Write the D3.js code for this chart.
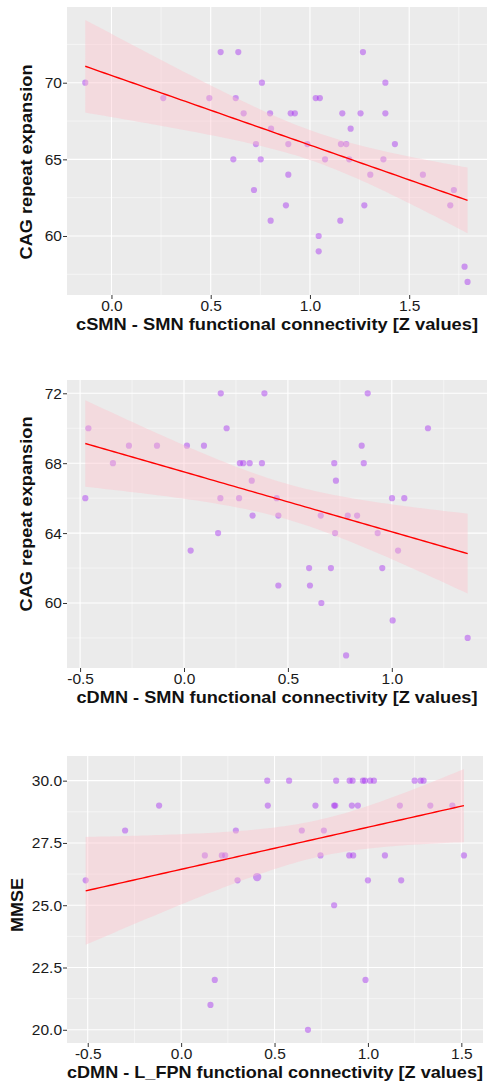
<!DOCTYPE html>
<html>
<head>
<meta charset="utf-8">
<script src="https://cdn.jsdelivr.net/npm/d3@7"></script>
<style>
  body {
    margin: 0;
    background: #fff;
  }
  svg {
    display: block;
    font-family: "Liberation Sans", Arial, sans-serif;
  }
  .tick text {
    fill: #1a1a1a;
    font-size: 15.5px;
  }
  .tick line {
    stroke: #333;
  }
  .axis-title {
    font-weight: bold;
    font-size: 16.5px;
    fill: #111;
  }
</style>
</head>
<body>
<script>
// panel 1 : cSMN - SMN vs CAG
var smn_x = [-0.132, 0.261, 0.493, 0.550, 0.639, 0.626, 0.666, 0.758, 0.799, 0.804,
  0.728, 0.614, 0.752, 0.903, 0.924, 0.891, 0.987, 1.029, 1.050, 1.076,
  1.163, 1.156, 1.183, 1.205, 1.198, 1.267, 1.255, 1.380, 1.380, 1.370,
  1.428, 0.718, 0.802, 0.891, 1.304, 1.569, 1.725, 0.879, 1.274, 1.707,
  1.153, 1.044, 1.044, 1.779, 1.794];
var smn_cag = [70, 69, 69, 72, 72, 69, 68, 70, 68, 67,
  66, 65, 65, 68, 68, 66, 66, 69, 69, 65,
  68, 66, 66, 67, 65, 72, 68, 70, 68, 65,
  66, 63, 61, 64, 64, 64, 63, 62, 62, 62,
  61, 60, 59, 58, 57];

// panel 2 : cDMN - SMN vs CAG
var dmn_x = [-0.475, -0.460, -0.265, -0.342, -0.130, 0.014, 0.096, 0.177, 0.205, 0.175,
  0.265, 0.269, 0.285, 0.316, 0.375, 0.326, 0.330, 0.387, 0.446, 0.454,
  0.884, 1.174, 0.855, 0.723, 0.865, 0.731, 1.001, 1.060, 0.658, 0.788,
  0.833, 0.164, 0.032, 0.454, 0.727, 0.932, 1.030, 0.602, 0.707, 0.954,
  0.606, 0.661, 1.004, 1.365, 0.780];
var dmn_cag = [66, 70, 69, 68, 69, 69, 69, 72, 70, 66,
  66, 68, 68, 68, 68, 67, 65, 72, 66, 65,
  72, 70, 69, 68, 68, 67, 66, 66, 65, 65,
  65, 64, 63, 61, 64, 64, 63, 62, 62, 62,
  61, 60, 59, 58, 57];

// panel 3 : cDMN - L_FPN vs MMSE
var fpn_x = [-0.511, -0.300, -0.118, 0.127, 0.218, 0.236, 0.293, 0.302, 0.407, 0.461,
  0.464, 0.578, 0.830, 0.902, 0.918, 0.973, 0.984, 1.012, 1.032, 1.250,
  1.282, 1.298, 0.719, 0.819, 0.825, 0.914, 0.946, 1.171, 1.334, 1.452,
  0.646, 0.764, 0.746, 0.900, 0.921, 1.091, 1.514, 1.000, 1.178, 0.819,
  0.180, 0.157, 0.987, 0.679];
var fpn_mmse = [26, 28, 29, 27, 27, 27, 28, 26, 26.13, 30,
  29, 30, 30, 30, 30, 30, 30, 30, 30, 30,
  30, 30, 29, 29, 29, 29, 29, 29, 29, 29,
  28, 28, 27, 27, 27, 27, 27, 26, 26, 25,
  22, 21, 22, 20];
// the one bigger dot in panel 3
var fpn_big = [0, 0, 0, 0, 0, 0, 0, 0, 1, 0,
  0, 0, 0, 0, 0, 0, 0, 0, 0, 0,
  0, 0, 0, 0, 0, 0, 0, 0, 0, 0,
  0, 0, 0, 0, 0, 0, 0, 0, 0, 0,
  0, 0, 0, 0];

// ticks
var p1_xticks = [0, 0.5, 1, 1.5], p1_xlabels = ["0.0", "0.5", "1.0", "1.5"];
var p1_xminor = [0.25, 0.75, 1.25, 1.75];
var p1_yticks = [60, 65, 70], p1_ylabels = ["60", "65", "70"];
var p1_yminor = [57.5, 62.5, 67.5, 72.5];

var p2_xticks = [-0.5, 0, 0.5, 1], p2_xlabels = ["-0.5", "0.0", "0.5", "1.0"];
var p2_xminor = [-0.25, 0.25, 0.75, 1.25];
var p2_yticks = [60, 64, 68, 72], p2_ylabels = ["60", "64", "68", "72"];
var p2_yminor = [58, 62, 66, 70];

var p3_xticks = [-0.5, 0, 0.5, 1, 1.5], p3_xlabels = ["-0.5", "0.0", "0.5", "1.0", "1.5"];
var p3_xminor = [-0.25, 0.25, 0.75, 1.25];
var p3_yticks = [20, 22.5, 25, 27.5, 30], p3_ylabels = ["20.0", "22.5", "25.0", "27.5", "30.0"];
var p3_yminor = [21.25, 23.75, 26.25, 28.75];

var width = 489, height = 1082;

var svg = d3.select("body").append("svg")
  .attr("width", width)
  .attr("height", height);

drawPanel({
  xs: smn_x, ys: smn_cag,
  left: 67, right: 487, top: 7, bottom: 295,
  xDomain: [-0.224, 1.892], yDomain: [56.15, 74.94],
  xticks: p1_xticks, xlabels: p1_xlabels, xminor: p1_xminor,
  yticks: p1_yticks, ylabels: p1_ylabels, yminor: p1_yminor,
  xtitle: "cSMN - SMN functional connectivity [Z values]", xtitleLen: 402,
  ytitle: "CAG repeat expansion", ytitleLen: 195, ytitleX: 32, ytitleY: 162
});

drawPanel({
  xs: dmn_x, ys: dmn_cag,
  left: 67, right: 487, top: 380, bottom: 668,
  xDomain: [-0.563, 1.458], yDomain: [56.28, 72.76],
  xticks: p2_xticks, xlabels: p2_xlabels, xminor: p2_xminor,
  yticks: p2_yticks, ylabels: p2_ylabels, yminor: p2_yminor,
  xtitle: "cDMN - SMN functional connectivity [Z values]", xtitleLen: 401,
  ytitle: "CAG repeat expansion", ytitleLen: 195, ytitleX: 32, ytitleY: 514
});

drawPanel({
  xs: fpn_x, ys: fpn_mmse, big: fpn_big,
  left: 67, right: 483, top: 756, bottom: 1043,
  xDomain: [-0.611, 1.616], yDomain: [19.47, 30.99],
  xticks: p3_xticks, xlabels: p3_xlabels, xminor: p3_xminor,
  yticks: p3_yticks, ylabels: p3_ylabels, yminor: p3_yminor,
  xtitle: "cDMN - L_FPN functional connectivity [Z values]", xtitleLen: 416,
  ytitle: "MMSE", ytitleLen: 54, ytitleX: 23, ytitleY: 905
});

// ordinary least squares fit with 95% band, like geom_smooth(method = "lm")
function fitLine(xs, ys) {
  var n = xs.length,
    mx = d3.mean(xs),
    my = d3.mean(ys);
  var sxx = d3.sum(xs, function(v) { return (v - mx) * (v - mx); });
  var sxy = d3.sum(xs, function(v, i) { return (v - mx) * (ys[i] - my); });
  var b = sxy / sxx,
    a = my - b * mx;
  var sse = d3.sum(xs, function(v, i) { var r = ys[i] - a - b * v; return r * r; });
  var s = Math.sqrt(sse / (n - 2));
  var t = 2.017; // t quantile, df ~ 43
  var ext = d3.extent(xs);
  return d3.range(81).map(function(i) {
    var v = ext[0] + (ext[1] - ext[0]) * i / 80;
    var se = s * Math.sqrt(1 / n + (v - mx) * (v - mx) / sxx);
    var f = a + b * v;
    return { x: v, fit: f, lo: f - t * se, hi: f + t * se };
  });
}

function drawPanel(p) {
  var x = d3.scaleLinear().domain(p.xDomain).range([p.left, p.right]);
  var y = d3.scaleLinear().domain(p.yDomain).range([p.bottom, p.top]);

  var g = svg.append("g");

  // grey panel
  g.append("rect")
    .attr("x", p.left)
    .attr("y", p.top)
    .attr("width", p.right - p.left)
    .attr("height", p.bottom - p.top)
    .attr("fill", "#ebebeb");

  // minor grid
  g.selectAll(".vminor").data(p.xminor).enter().append("line")
    .attr("x1", d => x(d)).attr("x2", d => x(d))
    .attr("y1", p.top).attr("y2", p.bottom)
    .attr("stroke", "#fff").attr("stroke-width", 0.5);
  g.selectAll(".hminor").data(p.yminor).enter().append("line")
    .attr("y1", d => y(d)).attr("y2", d => y(d))
    .attr("x1", p.left).attr("x2", p.right)
    .attr("stroke", "#fff").attr("stroke-width", 0.5);

  // major grid
  g.selectAll(".vmajor").data(p.xticks).enter().append("line")
    .attr("x1", d => x(d)).attr("x2", d => x(d))
    .attr("y1", p.top).attr("y2", p.bottom)
    .attr("stroke", "#fff").attr("stroke-width", 1.1);
  g.selectAll(".hmajor").data(p.yticks).enter().append("line")
    .attr("y1", d => y(d)).attr("y2", d => y(d))
    .attr("x1", p.left).attr("x2", p.right)
    .attr("stroke", "#fff").attr("stroke-width", 1.1);

  // points
  g.selectAll("circle").data(p.xs).enter().append("circle")
    .attr("cx", d => x(d))
    .attr("cy", (d, i) => y(p.ys[i]))
    .attr("r", (d, i) => p.big && p.big[i] ? 4.2 : 3.1)
    .attr("fill", "#a020f0")
    .attr("fill-opacity", 0.42);

  // smooth: ribbon over points, then line
  var fit = fitLine(p.xs, p.ys);
  g.append("path")
    .datum(fit)
    .attr("d", d3.area().x(d => x(d.x)).y0(d => y(d.lo)).y1(d => y(d.hi)))
    .attr("fill", "pink")
    .attr("fill-opacity", 0.4);
  g.append("path")
    .datum(fit)
    .attr("d", d3.line().x(d => x(d.x)).y(d => y(d.fit)))
    .attr("fill", "none")
    .attr("stroke", "red")
    .attr("stroke-width", 1.4);

  // axes
  var xAxis = d3.axisBottom(x)
    .tickValues(p.xticks)
    .tickFormat((d, i) => p.xlabels[i])
    .tickSizeInner(4).tickSizeOuter(0).tickPadding(1);
  var gx = g.append("g")
    .attr("transform", "translate(0," + p.bottom + ")")
    .call(xAxis);
  gx.select(".domain").remove();

  var yAxis = d3.axisLeft(y)
    .tickValues(p.yticks)
    .tickFormat((d, i) => p.ylabels[i])
    .tickSizeInner(4).tickSizeOuter(0).tickPadding(1);
  var gy = g.append("g")
    .attr("transform", "translate(" + p.left + ",0)")
    .call(yAxis);
  gy.select(".domain").remove();

  svg.selectAll(".tick text").attr("font-size", null).attr("font-family", null);

  // titles
  g.append("text")
    .attr("class", "axis-title")
    .attr("x", (p.left + p.right) / 2)
    .attr("y", p.bottom + 35)
    .attr("text-anchor", "middle")
    .attr("textLength", p.xtitleLen)
    .attr("lengthAdjust", "spacingAndGlyphs")
    .text(p.xtitle);

  g.append("text")
    .attr("class", "axis-title")
    .attr("transform", "translate(" + p.ytitleX + "," + p.ytitleY + ") rotate(-90)")
    .attr("text-anchor", "middle")
    .attr("textLength", p.ytitleLen)
    .attr("lengthAdjust", "spacingAndGlyphs")
    .text(p.ytitle);
}
</script>
</body>
</html>
